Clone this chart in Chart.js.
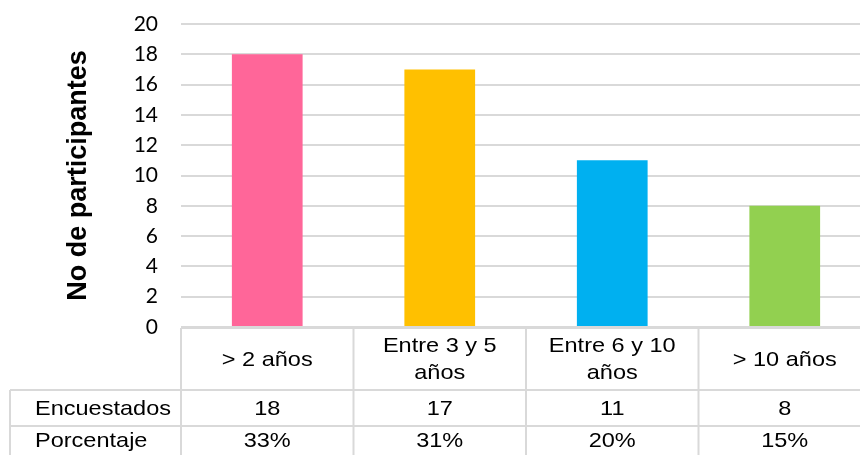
<!DOCTYPE html>
<html>
<head>
<meta charset="utf-8">
<script src="https://cdn.jsdelivr.net/npm/chart.js@4.4.1/dist/chart.umd.min.js"></script>
<style>
  html, body { margin: 0; padding: 0; background: #fff; overflow: hidden; }
</style>
</head>
<body>
<canvas id="chart" width="871" height="455"></canvas>
<script>
// categorias (cabecera de la tabla) y datos
const categories = [['> 2 años'], ['Entre 3 y 5', 'años'], ['Entre 6 y 10', 'años'], ['> 10 años']];
const encuestados = [18, 17, 11, 8];
const porcentaje = ['33%', '31%', '20%', '15%'];
const rowLabels = ['Encuestados', 'Porcentaje'];
const barColors = ['#FF6699', '#FFC000', '#00B0F0', '#92D050'];
const yMin = 0, yMax = 20, yStep = 2;

const GRID = '#D9D9D9';
const TEXT = '#000000';

// texto un poco ensanchado, como en la hoja original
function wideText(ctx, txt, x, y, align) {
  const sx = 1.12;
  ctx.save();
  ctx.translate(x, y);
  ctx.scale(sx, 1);
  ctx.textAlign = align || 'center';
  ctx.fillText(txt, 0, 0);
  ctx.restore();
}

// tabla de datos bajo el eje X
const dataTable = {
  id: 'dataTable',
  afterDraw(chart) {
    const ctx = chart.ctx;
    const xs = chart.scales.x;
    const area = chart.chartArea;
    const n = categories.length;
    const catW = (area.right - area.left) / n;
    const top = area.bottom + 1;
    const r1 = 390, r2 = 426, bottom = 462;
    const labelLeft = 10;

    ctx.save();
    ctx.strokeStyle = GRID;
    ctx.lineWidth = 2;
    ctx.beginPath();
    // horizontales
    ctx.moveTo(area.left, top); ctx.lineTo(area.right, top);
    ctx.moveTo(labelLeft, r1); ctx.lineTo(area.right, r1);
    ctx.moveTo(labelLeft, r2); ctx.lineTo(area.right, r2);
    // verticales
    ctx.moveTo(labelLeft, r1); ctx.lineTo(labelLeft, bottom);
    for (let i = 0; i <= n; i++) {
      const xb = area.left + i * catW;
      ctx.moveTo(xb, top); ctx.lineTo(xb, bottom);
    }
    ctx.stroke();

    ctx.fillStyle = TEXT;
    ctx.font = '21px "Liberation Sans", Arial, sans-serif';
    ctx.textBaseline = 'middle';

    categories.forEach((lines, i) => {
      const cx = xs.getPixelForValue(i);
      const mid = (top + r1) / 2;
      const lh = 27;
      lines.forEach((ln, j) => {
        const y = mid + (j - (lines.length - 1) / 2) * lh + 1;
        wideText(ctx, ln, cx, y);
      });
      wideText(ctx, String(encuestados[i]), cx, (r1 + r2) / 2 + 1);
      wideText(ctx, porcentaje[i], cx, (r2 + bottom) / 2 - 3);
    });

    wideText(ctx, rowLabels[0], 35, (r1 + r2) / 2 + 1, 'left');
    wideText(ctx, rowLabels[1], 35, (r2 + bottom) / 2 - 3, 'left');
    ctx.restore();
  }
};

new Chart(document.getElementById('chart'), {
  type: 'bar',
  data: {
    labels: categories,
    datasets: [{
      data: encuestados,
      backgroundColor: barColors,
      borderWidth: 0,
      barPercentage: 0.41,
      categoryPercentage: 1
    }]
  },
  options: {
    responsive: false,
    animation: false,
    layout: { padding: { top: 24, bottom: 128, left: 0, right: 0 } },
    plugins: { legend: { display: false }, tooltip: { enabled: false } },
    scales: {
      x: { display: false },
      y: {
        min: yMin,
        max: yMax,
        ticks: {
          stepSize: yStep,
          padding: 3,
          color: TEXT,
          font: { family: 'Lato, "Open Sans", sans-serif', size: 21 }
        },
        // marcas invisibles: solo separan las etiquetas de la rejilla
        grid: { color: GRID, lineWidth: 2, drawTicks: true, tickLength: 20, tickColor: 'rgba(0,0,0,0)' },
        border: { display: false },
        title: {
          display: true,
          text: 'No de participantes',
          color: TEXT,
          font: { family: '"Liberation Sans", Arial, sans-serif', size: 27, weight: 'bold' },
          padding: { top: 62, bottom: 0 }
        },
        afterFit(scale) { scale.width = 181; }
      }
    }
  },
  plugins: [dataTable]
});
</script>
</body>
</html>
